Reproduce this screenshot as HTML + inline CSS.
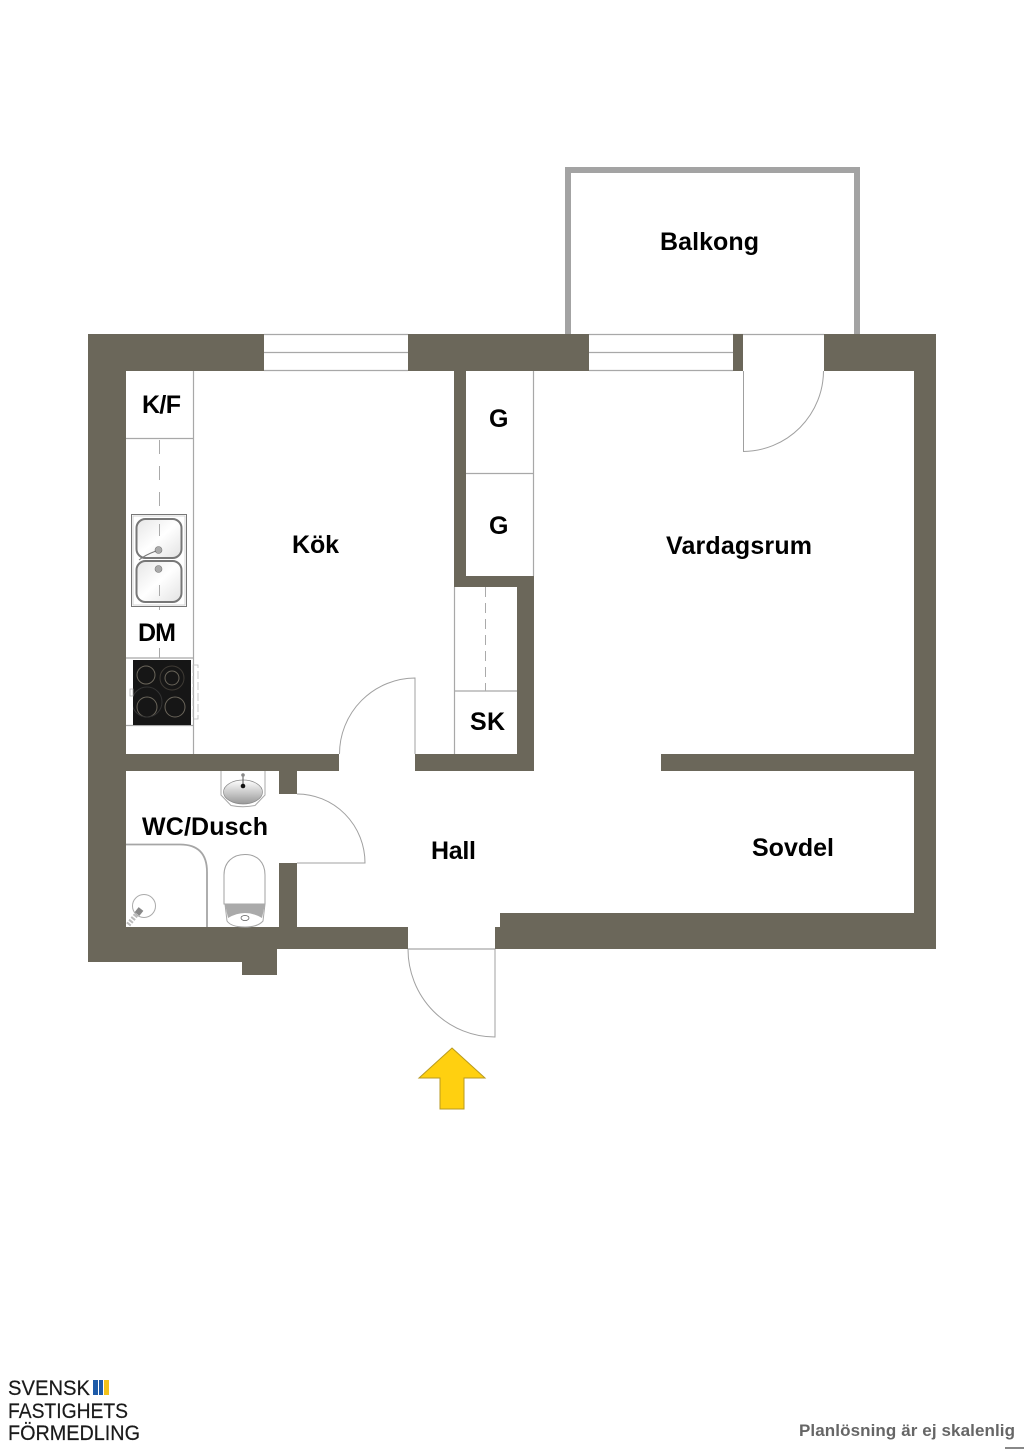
<!DOCTYPE html>
<html><head><meta charset="utf-8"><style>
html,body{margin:0;padding:0;background:#fff}
svg{display:block}
text{font-family:"Liberation Sans",sans-serif}
.l{font-weight:bold;font-size:25px;fill:#000}
</style></head><body>
<svg width="1024" height="1449" viewBox="0 0 1024 1449" xmlns="http://www.w3.org/2000/svg">
<defs>
<linearGradient id="b" x1="0" y1="0" x2="1" y2="1"><stop offset="0" stop-color="#e6e6e6"/><stop offset=".5" stop-color="#fff"/><stop offset="1" stop-color="#e2e2e2"/></linearGradient>
<linearGradient id="s" x1="0" y1="0" x2="0" y2="1"><stop offset="0" stop-color="#fff"/><stop offset="1" stop-color="#999"/></linearGradient>
<clipPath id="hob"><rect x="133" y="660" width="58" height="65"/></clipPath>
</defs>
<!-- balcony -->
<path d="M568 334V170H857V334" fill="none" stroke="#a3a3a3" stroke-width="6"/>
<!-- windows and fitted furniture lines -->
<g fill="none" stroke="#a8a8a8" stroke-width="1.2">
<path d="M264 334.5H408M264 352.5H408M264 370.5H408"/>
<path d="M589 334.5H824M589 352.5H733M589 370.5H733"/>
<path d="M408 949H495"/>
<path d="M193.5 371V754M126 438.5H193M126 658H193M126 725.5H193"/>
<path d="M533.5 371V576M466 473.5H533"/>
<path d="M454.5 587V754M454 691H517"/>
</g>
<!-- walls -->
<g fill="#6b675a">
<path d="M88 334H264V371H126V927H408V949H277V975H242V962H88Z"/>
<rect x="408" y="334" width="181" height="37"/>
<rect x="733" y="334" width="10" height="37"/>
<path d="M824 334H936V949H495V927H500V913H914V371H824Z"/>
<path d="M454 371H466V576H534V771H415V754H517V587H454Z"/>
<rect x="126" y="754" width="213" height="17"/>
<rect x="279" y="771" width="18" height="23"/>
<rect x="279" y="863" width="18" height="64"/>
<rect x="661" y="754" width="253" height="17"/>
</g>
<path d="M159.5 440V658" stroke="#aaa" stroke-width="1" stroke-dasharray="14 12" fill="none"/>
<path d="M485.5 587V691" stroke="#aaa" stroke-width="1" stroke-dasharray="10 6" fill="none"/>
<!-- doors -->
<g fill="none" stroke="#a0a0a0" stroke-width="1">
<path d="M743.5 371V451.5A81 81 0 0 0 823.5 371"/>
<path d="M415 754V678A76 76 0 0 0 339.5 754"/>
<path d="M297 794A68 69 0 0 1 365 863H297"/>
<path d="M408 949A87 88 0 0 0 495 1037V949"/>
</g>
<!-- sink -->
<g>
<rect x="131.5" y="514.5" width="55" height="92" fill="#fff" stroke="#777" stroke-width="1"/>
<rect x="133" y="516" width="52" height="89" fill="none" stroke="#bbb" stroke-width=".6"/>
<rect x="136.5" y="519" width="45" height="39" rx="9" fill="url(#b)" stroke="#777" stroke-width="2"/>
<rect x="136.5" y="561" width="45" height="41" rx="9" fill="url(#b)" stroke="#777" stroke-width="2"/>
<circle cx="158.5" cy="550" r="3.5" fill="#aaa" stroke="#777" stroke-width=".6"/>
<circle cx="158.5" cy="569" r="3.5" fill="#aaa" stroke="#777" stroke-width=".6"/>
<path d="M139 560Q145 555 156 551" fill="none" stroke="#777" stroke-width="1"/>
<path d="M159.5 524V536M159.5 585V596" stroke="#aaa" stroke-width="1"/>
</g>
<!-- hob -->
<g>
<rect x="133" y="660" width="58" height="65" fill="#161616"/>
<g fill="none" stroke="#6a655a" stroke-width="1" clip-path="url(#hob)">
<circle cx="146" cy="675" r="9"/>
<circle cx="172" cy="678" r="7"/><circle cx="172" cy="678" r="12" stroke="#3e3a34"/>
<circle cx="147" cy="707" r="10"/><circle cx="147" cy="702" r="15" stroke="#333"/>
<circle cx="175" cy="707" r="10"/>
</g>
<rect x="130" y="689" width="3" height="7" fill="none" stroke="#aaa" stroke-width=".7"/>
<rect x="193" y="665" width="5" height="54" fill="none" stroke="#bbb" stroke-width=".8" stroke-dasharray="8 3"/>
</g>
<!-- wash basin -->
<g>
<path d="M221 771V795L231 805.5Q243 808 255 805.5L265 795V771" fill="#fff" stroke="#aaa" stroke-width="1"/>
<ellipse cx="243" cy="792" rx="19.5" ry="12" fill="url(#s)" stroke="#888" stroke-width=".7"/>
<path d="M243 775V786" stroke="#555" stroke-width="1"/>
<circle cx="243" cy="775" r="1.8" fill="#888"/>
<circle cx="243" cy="786" r="2.3" fill="#111"/>
</g>
<!-- shower -->
<path d="M126 844.5H180Q207 844.5 207 872V927" fill="none" stroke="#a6a6a6" stroke-width="1.8"/>
<circle cx="144" cy="906" r="11.5" fill="#fff" stroke="#aaa" stroke-width="1"/>
<path d="M141 909L137 914" stroke="#888" stroke-width="6" fill="none"/>
<path d="M136 915L128 925" stroke="#bbb" stroke-width="5" stroke-dasharray="2 1.5" fill="none"/>
<!-- toilet -->
<g>
<path d="M224 904V875C224 862 233 854.5 245 854.5C257 854.5 265 862 265 875V904Z" fill="#fff" stroke="#a0a0a0" stroke-width="1"/>
<path d="M225 904H265L263 921Q258 927 245 927Q231 927 227 921Z" fill="#fff" stroke="#a8a8a8" stroke-width="1"/>
<path d="M225 904H265L262 918Q245 908 228 918Z" fill="#aaa"/>
<ellipse cx="245" cy="918" rx="4" ry="2.5" fill="#fff" stroke="#555" stroke-width=".7"/>
</g>
<!-- arrow -->
<path d="M452 1048L485 1078H464V1109H440V1078H419Z" fill="#ffd010" stroke="#b89a20" stroke-width="1"/>
<!-- labels -->
<text class="l" x="660" y="250" textLength="99">Balkong</text>
<text class="l" x="142" y="413" textLength="39">K/F</text>
<text class="l" x="292" y="553" textLength="47">Kök</text>
<text class="l" x="489" y="427" textLength="19">G</text>
<text class="l" x="489" y="534" textLength="19">G</text>
<text class="l" x="666" y="554" textLength="146">Vardagsrum</text>
<text class="l" x="138" y="641" textLength="38">DM</text>
<text class="l" x="470" y="730" textLength="35">SK</text>
<text class="l" x="142" y="835" textLength="126">WC/Dusch</text>
<text class="l" x="431" y="859" textLength="45">Hall</text>
<text class="l" x="752" y="856" textLength="82">Sovdel</text>
<!-- logo -->
<g fill="#1a1a1a" font-size="21" stroke="#1a1a1a" stroke-width=".2">
<text x="8" y="1395" textLength="82" lengthAdjust="spacingAndGlyphs">SVENSK</text>
<text x="8" y="1418" textLength="120" lengthAdjust="spacingAndGlyphs">FASTIGHETS</text>
<text x="8" y="1440" textLength="132" lengthAdjust="spacingAndGlyphs">FÖRMEDLING</text>
</g>
<rect x="93" y="1380" width="5" height="15" fill="#1d5aa8"/>
<rect x="99" y="1380" width="4" height="15" fill="#1d5aa8"/>
<rect x="104" y="1380" width="5" height="15" fill="#f2c21a"/>
<!-- footer -->
<text x="799" y="1436" font-size="17" font-weight="bold" fill="#666" textLength="216">Planlösning är ej skalenlig</text>
<rect x="1005" y="1447" width="19" height="2" fill="#888"/>
</svg>
</body></html>
